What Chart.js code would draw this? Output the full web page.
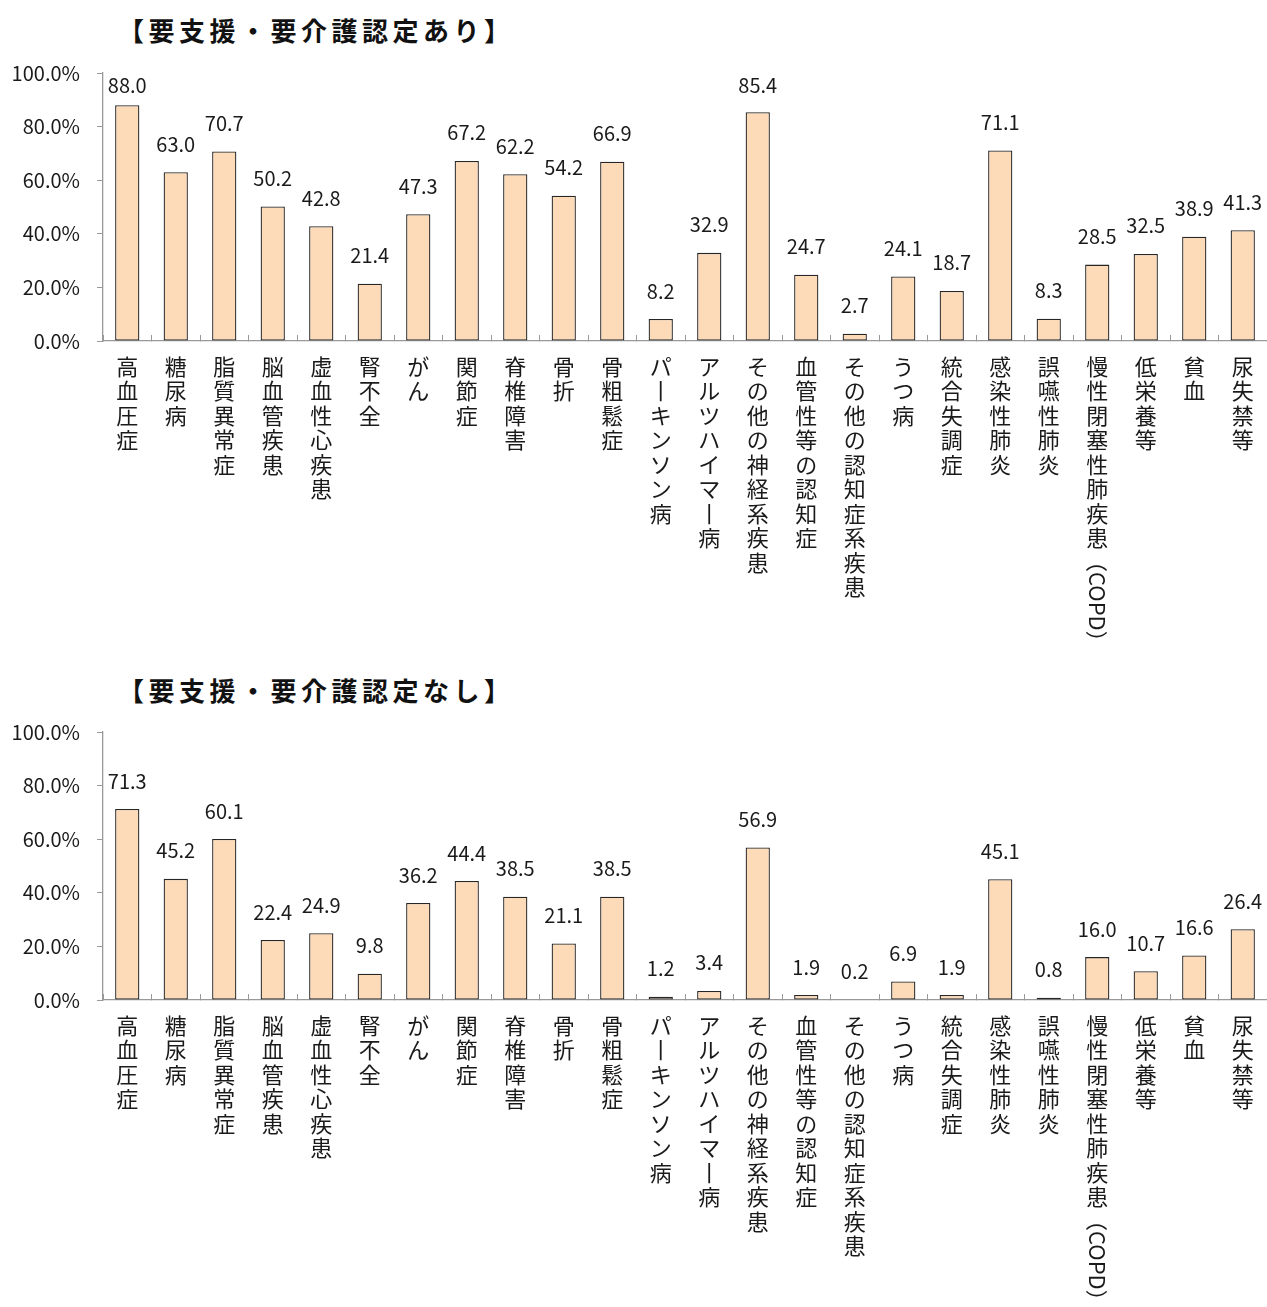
<!DOCTYPE html>
<html>
<head>
<meta charset="UTF-8">
<title>要支援・要介護認定の有無別 疾患の割合</title>
<script src="https://cdn.jsdelivr.net/npm/chart.js@4.4.1/dist/chart.umd.min.js"></script>
<style>
    body { margin: 0; background: #fff; width: 1267px; height: 1307px; position: relative; overflow: hidden; }
    .titulo { position: absolute; left: 118px; font-family: "Noto Sans CJK JP", sans-serif; font-size: 26px; font-weight: bold; letter-spacing: 4.5px; color: #111; line-height: 30px; margin: 0; }
    canvas { position: absolute; left: 0; }
</style>
</head>
<body>
<div class="titulo" style="top: 15px;">【要支援・要介護認定あり】</div>
<canvas id="graficoAri" width="1267" height="660" style="top: 0px;"></canvas>

<div class="titulo" style="top: 675px;">【要支援・要介護認定なし】</div>
<canvas id="graficoNashi" width="1267" height="647" style="top: 660px;"></canvas>

<script>
// categorias (疾患)
var categorias = ["高血圧症", "糖尿病", "脂質異常症", "脳血管疾患", "虚血性心疾患", "腎不全", "がん", "関節症", "脊椎障害", "骨折", "骨粗鬆症", "パーキンソン病", "アルツハイマー病", "その他の神経系疾患", "血管性等の認知症", "その他の認知症系疾患", "うつ病", "統合失調症", "感染性肺炎", "誤嚥性肺炎", "慢性閉塞性肺疾患（COPD）", "低栄養等", "貧血", "尿失禁等"];

// 要支援・要介護認定あり (%)
var valoresAri = [88.0, 63.0, 70.7, 50.2, 42.8, 21.4, 47.3, 67.2, 62.2, 54.2, 66.9, 8.2, 32.9, 85.4, 24.7, 2.7, 24.1, 18.7, 71.1, 8.3, 28.5, 32.5, 38.9, 41.3];

// 要支援・要介護認定なし (%)
var valoresNashi = [71.3, 45.2, 60.1, 22.4, 24.9, 9.8, 36.2, 44.4, 38.5, 21.1, 38.5, 1.2, 3.4, 56.9, 1.9, 0.2, 6.9, 1.9, 45.1, 0.8, 16.0, 10.7, 16.6, 26.4];

// eixo y
var ticksY = [0, 20, 40, 60, 80, 100];

var fonte = '"Noto Sans CJK JP", "Noto Sans", sans-serif';
var corTexto = '#1a1a1a';
var alturaLinha = 24.5;
var paddingRotulo = 19;

// texto vertical: um caractere por linha (parte latina entre parenteses desenhada a parte)
function rotuloVertical(texto) {
    var i = texto.indexOf("（");
    if (i >= 0) texto = texto.substring(0, i);
    return Array.from(texto.replace(/ー/g, "丨"));
}

// rotulos de dados acima das barras
var pluginRotulos = {
    id: 'rotulos',
    afterDatasetsDraw: function(chart) {
        var ctx = chart.ctx;
        var meta = chart.getDatasetMeta(0);
        ctx.save();
        ctx.font = '20px ' + fonte;
        ctx.fillStyle = corTexto;
        ctx.textAlign = 'center';
        ctx.textBaseline = 'middle';
        meta.data.forEach(function(barra, i) {
            var y = Math.max(barra.y - 28, chart.chartArea.top + 12);
            ctx.fillText(chart.data.datasets[0].data[i].toFixed(1), barra.x, y);
        });
        ctx.restore();
    }
};

// "（COPD）" girado 90 graus, como no texto vertical
var pluginCopd = {
    id: 'copd',
    afterDraw: function(chart) {
        var escala = chart.scales.x;
        var ctx = chart.ctx;
        chart.data.labels.forEach(function(rotulo, i) {
            var p = rotulo.indexOf("（");
            if (p < 0) return;
            var resto = rotulo.substring(p);
            var n = Array.from(rotulo.substring(0, p)).length;
            var x = escala.getPixelForTick(i);
            var y = chart.chartArea.bottom + paddingRotulo - 6 + n * alturaLinha;
            ctx.save();
            ctx.translate(x, y);
            ctx.rotate(Math.PI / 2);
            ctx.font = '22px ' + fonte;
            ctx.fillStyle = corTexto;
            ctx.textAlign = 'left';
            ctx.textBaseline = 'middle';
            ctx.fillText(resto, 0, 0);
            ctx.restore();
        });
    }
};

function criarGrafico(id, valores, topo, alturaEixoX) {
    var ctx = document.getElementById(id).getContext("2d");
    return new Chart(ctx, {
        type: "bar",
        data: {
            labels: categorias,
            datasets: [{
                data: valores,
                backgroundColor: "#FDDBB8",
                borderColor: "#262626",
                borderWidth: 1.3,
                borderSkipped: false,
                categoryPercentage: 1.0,
                barPercentage: 0.5
            }]
        },
        options: {
            responsive: false,
            animation: false,
            layout: { padding: { top: topo, left: 0, right: 0, bottom: 0 } },
            plugins: {
                legend: { display: false },
                tooltip: { enabled: false }
            },
            scales: {
                x: {
                    grid: { offset: true, drawOnChartArea: false, tickLength: -6, color: '#999', lineWidth: 1 },
                    border: { color: '#999', width: 1.3 },
                    ticks: {
                        autoSkip: false,
                        maxRotation: 0,
                        minRotation: 0,
                        padding: paddingRotulo,
                        color: corTexto,
                        font: { family: fonte, size: 22, lineHeight: alturaLinha / 22 },
                        callback: function(valor, indice) {
                            return rotuloVertical(categorias[indice]);
                        }
                    },
                    afterFit: function(escala) {
                        escala.height = alturaEixoX;
                        escala.paddingLeft = 0;
                        escala.paddingRight = 0;
                    }
                },
                y: {
                    min: 0,
                    max: 100,
                    afterBuildTicks: function(escala) {
                        escala.ticks = ticksY.map(function(v) { return { value: v }; });
                    },
                    grid: { drawOnChartArea: false, tickLength: 6, color: '#999' },
                    border: { color: '#999', width: 1.3 },
                    ticks: {
                        padding: 17,
                        color: corTexto,
                        font: { family: fonte, size: 20 },
                        callback: function(valor) { return valor.toFixed(1) + "%"; }
                    },
                    afterFit: function(escala) { escala.width = 103; }
                }
            }
        },
        plugins: [pluginRotulos, pluginCopd]
    });
}

var graficoAri = criarGrafico("graficoAri", valoresAri, 73, 660 - 341);
var graficoNashi = criarGrafico("graficoNashi", valoresNashi, 72, 647 - 340);
</script>
</body>
</html>
